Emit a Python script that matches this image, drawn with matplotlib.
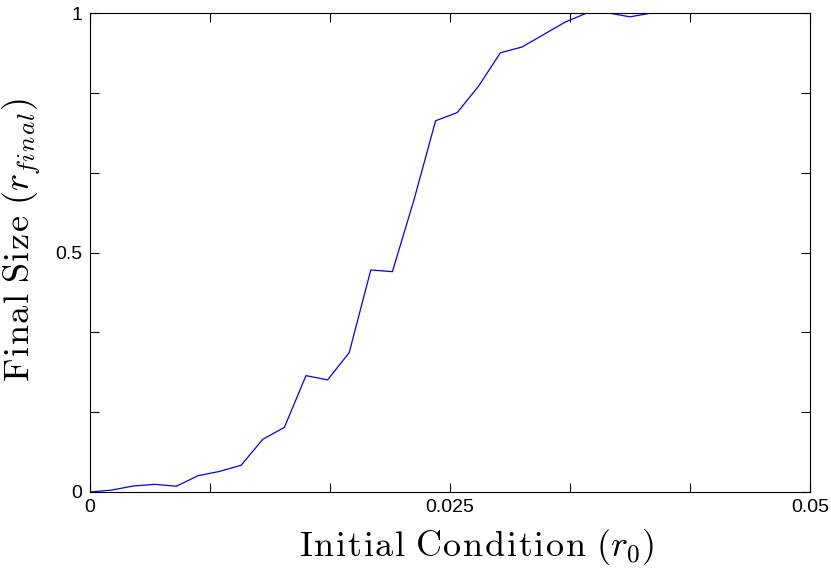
import matplotlib
matplotlib.use("Agg")
import matplotlib.pyplot as plt
import numpy as np

x_step = 0.0015
n_points = 34
final_size = [0.0, 0.004, 0.0125, 0.016, 0.012, 0.034, 0.043, 0.056, 0.110, 0.135,
              0.243, 0.234, 0.291, 0.4635, 0.460, 0.610, 0.775, 0.792, 0.848, 0.917,
              0.929, 0.955, 0.981, 1.0, 1.0, 0.992, 1.0, 1.0, 1.0, 1.0,
              1.0, 1.0, 1.0, 1.0]
initial_condition = np.arange(n_points) * x_step

x_ticks = [0.05 * k / 6 for k in range(7)]
x_tick_labels = ["0", "", "", "0.025", "", "", "0.05"]
y_ticks = [k / 6 for k in range(7)]
y_tick_labels = ["0", "", "", "0.5", "", "", "1"]

plt.rcParams['mathtext.fontset'] = 'cm'
plt.rcParams['font.family'] = ['Liberation Sans', 'DejaVu Sans']

SP = r'\hspace{0.055}'


def spaced_rm(text):
    words = text.split(' ')
    parts = [SP.join(r'\mathrm{%s}' % c for c in w) for w in words]
    return r'\ '.join(parts)


xlabel_text = '$' + spaced_rm('Initial Condition') + r'\ (r_{0})$'
ylabel_text = '$' + spaced_rm('Final Size') + r'\ (r_{' + SP.join('final') + '})$'

fig = plt.figure(figsize=(8.31, 5.74), dpi=100)
ax = fig.add_axes([90/831, 1-492/574, 720/831, 479/574])
ax.plot(initial_condition, final_size, color=(0, 0, 1), linewidth=0.9)
ax.set_xlim(0, 0.05)
ax.set_ylim(0, 1)
ax.set_xticks(x_ticks)
ax.set_xticklabels(x_tick_labels)
ax.set_yticks(y_ticks)
ax.set_yticklabels(y_tick_labels)
ax.tick_params(direction='in', length=6.3, width=0.8, top=True, right=True,
               labelsize=14, colors='black')
ax.tick_params(axis='x', pad=5)
ax.tick_params(axis='y', pad=5.5)
for s in ax.spines.values():
    s.set_linewidth(0.8)

ax.set_xlabel(xlabel_text, fontsize=26)
ax.set_ylabel(ylabel_text, fontsize=26)
ax.xaxis.set_label_coords((476.5 - 90) / 720, (492 - 527) / 479)
ax.yaxis.set_label_coords((43 - 90) / 720, (492 - 240) / 479)

fig.savefig("out.png", dpi=100)
